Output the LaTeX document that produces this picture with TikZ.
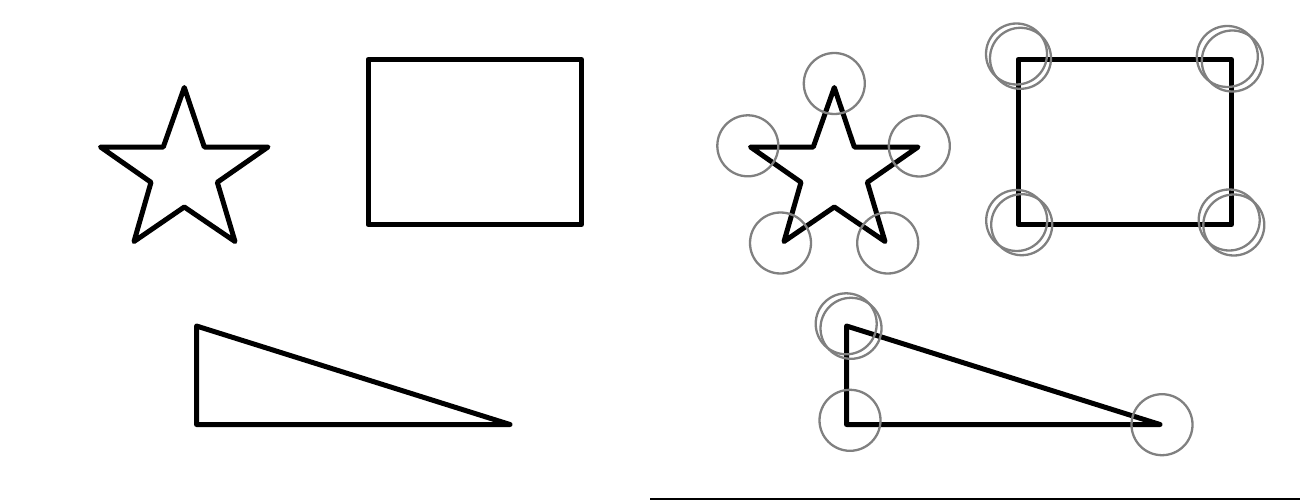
\documentclass[tikz,border=0pt]{standalone}
\begin{document}
\begin{tikzpicture}[x=1pt,y=-1pt,
  shapeline/.style={draw=black,line width=5pt,line join=round},
  vtxcircle/.style={draw=black!50,line width=2.3pt},
  frameline/.style={draw=black,line width=1.8pt}]
\useasboundingbox (0,0) rectangle (1300,500);
% ---------- left: plain shapes ----------
\draw[shapeline] (184.3,87.5) -- (204.3,147) -- (268,147) -- (217.3,182.3) -- (235,241.5)
  -- (184.3,207) -- (134,241.5) -- (151,182.3) -- (100.5,147) -- (163.3,147) -- cycle;
\draw[shapeline] (368,59.5) rectangle (581.5,224.5);
\draw[shapeline] (196.5,326) -- (196.5,424.5) -- (510,424.5) -- cycle;
% ---------- right: shapes with vertex circles ----------
\begin{scope}[xshift=650pt]
\draw[shapeline] (184.3,87.5) -- (204.3,147) -- (268,147) -- (217.3,182.3) -- (235,241.5)
  -- (184.3,207) -- (134,241.5) -- (151,182.3) -- (100.5,147) -- (163.3,147) -- cycle;
\draw[shapeline] (368,59.5) rectangle (581.5,224.5);
\draw[shapeline] (196.5,326) -- (196.5,424.5) -- (510,424.5) -- cycle;
\end{scope}
% star circles
\draw[vtxcircle] (834.3,83.5) circle (30.5);
\draw[vtxcircle] (747.8,145.8) circle (30.5);
\draw[vtxcircle] (919.3,146) circle (30.5);
\draw[vtxcircle] (780.5,243) circle (30.5);
\draw[vtxcircle] (887.7,243) circle (30.5);
% rectangle circles (double)
\draw[vtxcircle] (1016.5,54) circle (30.5);
\draw[vtxcircle] (1020.5,58.3) circle (30.5);
\draw[vtxcircle] (1227.3,56.5) circle (30.5);
\draw[vtxcircle] (1232.3,61) circle (30.5);
\draw[vtxcircle] (1016.7,220.5) circle (30.5);
\draw[vtxcircle] (1021.7,224.7) circle (30.5);
\draw[vtxcircle] (1229.2,220) circle (30.5);
\draw[vtxcircle] (1233.8,225) circle (30.5);
% triangle circles
\draw[vtxcircle] (846.2,323.8) circle (30.5);
\draw[vtxcircle] (851,328.3) circle (30.5);
\draw[vtxcircle] (850,420.3) circle (30.5);
\draw[vtxcircle] (1162,424.7) circle (30.5);
% bottom line
\coordinate (la) at (650,499);
\coordinate (lb) at (1300,499);
\draw[frameline] (la) -- (lb);
\end{tikzpicture}
\end{document}
